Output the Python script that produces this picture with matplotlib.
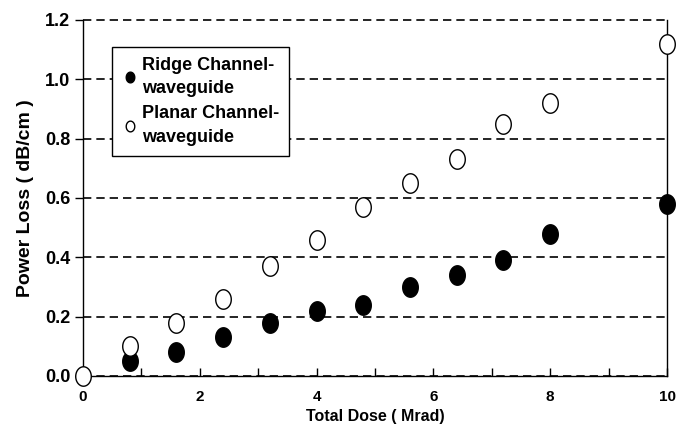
import matplotlib.pyplot as plt
import numpy as np
from matplotlib.path import Path

dose_ridge = [0.8, 1.6, 2.4, 3.2, 4.0, 4.8, 5.6, 6.4, 7.2, 8.0, 10.0]
loss_ridge = [0.05, 0.08, 0.13, 0.18, 0.22, 0.24, 0.30, 0.34, 0.39, 0.48, 0.58]
dose_planar = [0.0, 0.8, 1.6, 2.4, 3.2, 4.0, 4.8, 5.6, 6.4, 7.2, 8.0, 10.0]
loss_planar = [0.0, 0.10, 0.18, 0.26, 0.37, 0.46, 0.57, 0.65, 0.73, 0.85, 0.92, 1.12]

x_ticks = [0, 2, 4, 6, 8, 10]
y_ticks = [0.0, 0.2, 0.4, 0.6, 0.8, 1.0, 1.2]

plt.rcParams["font.family"] = ["Liberation Sans", "DejaVu Sans"]
plt.rcParams["font.weight"] = "bold"

# slightly tall ellipse marker, like the original
t = np.linspace(0, 2 * np.pi, 60)
ellipse = Path(np.column_stack([0.8 * np.cos(t), np.sin(t)]), closed=True)

fig = plt.figure(figsize=(6.82, 4.41), dpi=100)
ax = fig.add_axes([83 / 682, 65 / 441, 584 / 682, 356 / 441])

ax.plot(dose_ridge, loss_ridge, linestyle="none", marker=ellipse, markersize=14,
        color="black", markerfacecolor="black", markeredgewidth=1.0,
        label="Ridge Channel-\nwaveguide", clip_on=False, zorder=3)
ax.plot(dose_planar, loss_planar, linestyle="none", marker=ellipse, markersize=14,
        color="black", markerfacecolor="white", markeredgewidth=1.0,
        label="Planar Channel-\nwaveguide", clip_on=False, zorder=3)

ax.set_xlim(0, 10)
ax.set_ylim(0, 1.2)
ax.set_xticks(x_ticks)
ax.set_xticks(range(0, 11), minor=True)
ax.set_yticks(y_ticks)
ax.set_yticklabels([f"{v:.1f}" for v in y_ticks])
ax.tick_params(axis="x", which="both", direction="in", length=6, width=1,
               labelsize=11, pad=10)
ax.tick_params(axis="y", direction="out", length=6, width=1, labelsize=13, pad=3)

ax.grid(axis="y", color="black", linestyle=(0, (5, 3)), linewidth=1.2)
ax.set_axisbelow(True)
for gl in ax.get_ygridlines():
    gl.set_clip_on(False)
ax.spines["top"].set_visible(False)
for s in ax.spines.values():
    s.set_linewidth(1.0)

ax.set_xlabel("Total Dose ( Mrad)", fontsize=11.5, fontweight="bold", labelpad=4)
ax.set_ylabel("Power Loss ( dB/cm )", fontsize=14, fontweight="bold", labelpad=8)

leg = ax.legend(loc="upper left", bbox_to_anchor=(0.05, 0.925), frameon=True,
                fancybox=False, edgecolor="black", framealpha=1,
                fontsize=13, markerscale=0.55, handletextpad=0.2,
                handlelength=0.9, borderpad=0.55, labelspacing=0.45,
                borderaxespad=0)
leg.get_frame().set_linewidth(1.0)
for txt in leg.get_texts():
    txt.set_linespacing(1.5)

fig.savefig("out.png", dpi=100)
